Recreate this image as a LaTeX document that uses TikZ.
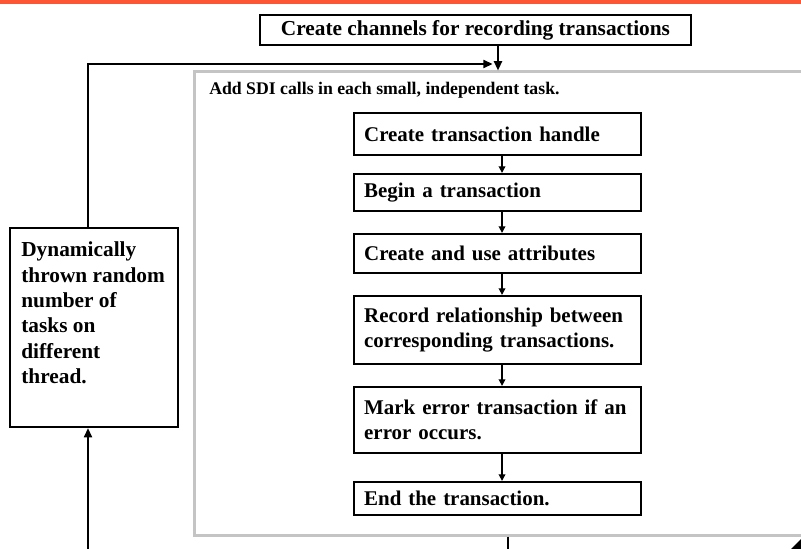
\documentclass[tikz,border=0pt]{standalone}
\usepackage{fontspec}
\setmainfont{Liberation Serif}
\usetikzlibrary{arrows.meta}
\definecolor{topbar}{RGB}{252,86,52}
\definecolor{framegray}{RGB}{196,196,196}

\begin{document}
\begin{tikzpicture}[x=0.75pt,y=-0.75pt,
        taskbox/.style={shape=rectangle,draw,line width=1.6pt,inner xsep=8.75pt,inner ysep=0pt,
            font=\bfseries\fontsize{16}{19}\selectfont},
        stepbox/.style={taskbox,inner xsep=7.75pt,text width=200pt,align=left,
            font=\bfseries\fontsize{15.7}{19}\selectfont},
        bigarrow/.style={line width=1.5pt,-{Triangle[length=7pt,width=6pt]}},
        smallarrow/.style={line width=1.1pt,-{Triangle[length=5pt,width=5pt]}}]
        \useasboundingbox (0,0) rectangle (801,549);
        \fill[topbar] (0,0) rectangle (801,4);

        % container for the per-task steps
        \node (sdi) [shape=rectangle,draw=framegray,line width=2.25pt,
            minimum width=463.5pt,minimum height=347.25pt] at (503,303.5) {};
        \node (sdititle) [anchor=base west,inner sep=0pt,font=\bfseries\fontsize{13.3}{16}\selectfont]
            at (209,95) {Add SDI calls in each small, independent task.};

        \node (channels) [taskbox,minimum width=323.25pt,minimum height=22.5pt] at (475.5,30)
            {Create channels for recording transactions};

        \node (handle) [stepbox,minimum height=31.5pt] at (497.5,134) {Create transaction handle};
        \node (begin) [stepbox,minimum height=27.75pt] at (497.5,192.5) {Begin a transaction};
        \node (attrs) [stepbox,minimum height=29.25pt] at (497.5,253.5) {Create and use attributes};
        \node (relate) [stepbox,minimum height=51pt] at (497.5,330)
            {\mbox{Record relationship between}\\corresponding transactions.};
        \node (markerr) [stepbox,minimum height=49.5pt] at (497.5,420)
            {\mbox{Mark error transaction if an}\\error occurs.};
        \node (endtx) [stepbox,minimum height=24.75pt] at (497.5,498.5) {End the transaction.};

        \node (thread) [taskbox,inner xsep=8.5pt] at (94,327.5) {
            \parbox[c][149.25pt][t]{109pt}{\rule{0pt}{21.75pt}Dynamically\\
                thrown random\\
                number of\\
                tasks on\\
                different\\
                thread.}
        };

        \coordinate (join) at (498,64);
        \coordinate (feed) at (88,549);
        \coordinate (exit) at (508,549);

        \draw[bigarrow] (channels.south -| join) -- (join |- sdi.north);
        \draw[bigarrow] ([xshift=-4.5pt]thread.north) |- ([xshift=-4pt]join);
        \draw[bigarrow] (feed) -- (feed |- thread.south);
        \draw[line width=1.5pt] (exit |- sdi.south) -- (exit);

        \foreach \a/\b in {handle/begin,begin/attrs,attrs/relate,relate/markerr,markerr/endtx}
            \draw[smallarrow] ([xshift=3.4pt]\a.south) -- ([xshift=3.4pt]\b.north);

        \fill (791,549) -- (801,539) -- (801,549) -- cycle;
    \end{tikzpicture}
\end{document}
